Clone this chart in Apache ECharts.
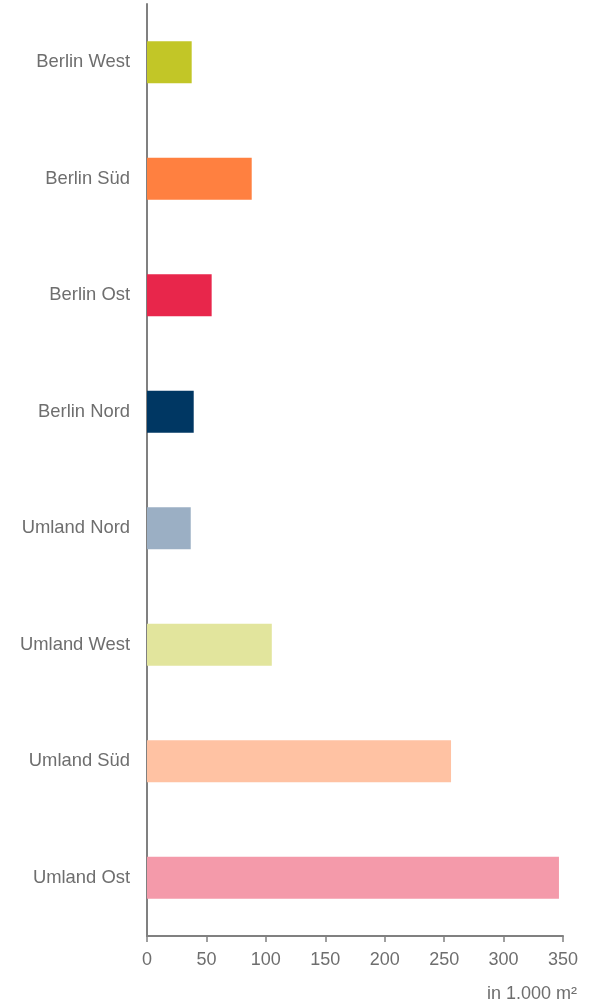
<!DOCTYPE html>
<html>
<head>
<meta charset="utf-8">
<script src="https://cdn.jsdelivr.net/npm/echarts@6/dist/echarts.min.js"></script>
<style>
  html, body { margin: 0; padding: 0; background: #fff; }
  #chart { width: 602px; height: 1004px; }
</style>
</head>
<body>
<div id="chart"></div>
<script>
// Regionen (von oben nach unten)
var regionen = ['Berlin West', 'Berlin Süd', 'Berlin Ost', 'Berlin Nord', 'Umland Nord', 'Umland West', 'Umland Süd', 'Umland Ost'];
// Werte in 1.000 m²
var werte = [37.6, 88.1, 54.4, 39.3, 36.8, 105, 255.8, 346.6];
var farben = ['#c2c627', '#ff8040', '#e8264b', '#003763', '#9bafc4', '#e2e59d', '#ffc2a3', '#f49aaa'];
var xTicks = [0, 50, 100, 150, 200, 250, 300, 350];

var chart = echarts.init(document.getElementById('chart'));
var option = {
    animation: false,
    grid: { left: 147, right: 39, top: 4, bottom: 68, containLabel: false },
    xAxis: {
        type: 'value',
        min: xTicks[0],
        max: xTicks[xTicks.length - 1],
        interval: 50,
        axisLine: { show: true, lineStyle: { color: '#808080', width: 2 } },
        axisTick: { show: true, length: 6, lineStyle: { color: '#808080', width: 1.5 } },
        axisLabel: { color: '#6e6e6e', fontSize: 18, fontFamily: 'Liberation Sans, Arial', margin: 15 },
        splitLine: { show: false }
    },
    yAxis: {
        type: 'category',
        inverse: true,
        data: regionen,
        axisLine: { show: true, lineStyle: { color: '#808080', width: 2 } },
        axisTick: { show: false },
        axisLabel: { color: '#6e6e6e', fontSize: 18.4, fontFamily: 'Liberation Sans, Arial', margin: 17 }
    },
    series: [{
        type: 'bar',
        barWidth: '36%',
        data: werte.map(function (v, i) {
            return { value: v, itemStyle: { color: farben[i] } };
        })
    }],
    graphic: [{
        type: 'text',
        right: 25,
        top: 985,
        style: {
            text: 'in 1.000 m²',
            fill: '#6e6e6e',
            font: '18px Liberation Sans, Arial',
            textAlign: 'right'
        }
    }]
};
chart.setOption(option);
</script>
</body>
</html>
